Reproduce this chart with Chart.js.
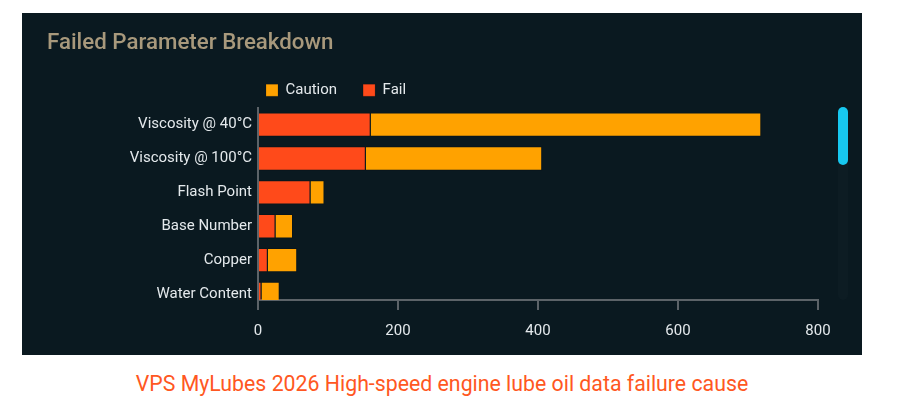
<!DOCTYPE html>
<html>
<head>
<meta charset="utf-8">
<script src="https://cdn.jsdelivr.net/npm/chart.js@4.4.1/dist/chart.umd.min.js"></script>
<style>
  html, body { margin: 0; padding: 0; background: #ffffff; }
  body { width: 904px; height: 407px; position: relative; overflow: hidden; font-family: Roboto, 'Noto Sans', sans-serif; }
  #panel { position: absolute; left: 22px; top: 13px; width: 840px; height: 342px; background: #0a1920; }
  #track { position: absolute; left: 816px; top: 94px; width: 10px; height: 193px; background: #0d1c23; border-radius: 5px; }
  #thumb { position: absolute; left: 0; top: 0; width: 10px; height: 58px; background: #17c8f0; border-radius: 5px; }
  #caption { position: absolute; left: 22px; width: 840px; top: 371px; text-align: center; color: #ff5722; font-size: 21.3px; line-height: 26px; }
</style>
</head>
<body>
<div id="panel">
  <canvas id="chartFailed" width="840" height="342"></canvas>
  <div id="track"><div id="thumb"></div></div>
</div>
<div id="caption">VPS MyLubes 2026 High-speed engine lube oil data failure cause</div>
<script>
  // données
  var categories = ['Viscosity @ 40°C', 'Viscosity @ 100°C', 'Flash Point', 'Base Number', 'Copper', 'Water Content'];
  var failValues = [161, 154, 75, 25, 14, 5];
  var cautionValues = [558, 252, 20, 25, 42, 26];
  var xTicks = [0, 200, 400, 600, 800];
  var visibleRows = 5.68; // the list is scrolled: only part of the last row shows

  var palette = {
    fail: '#ff4a1a',
    caution: '#ffa200',
    axis: '#5c6368',
    text: '#e4e9ec',
    title: '#a8997c'
  };

  // legend starts at the plot's left edge, like the original
  var legendAtPlot = {
    id: 'legendAtPlot',
    afterLayout: function (chart) {
      if (chart.legend) chart.legend.left = chart.chartArea.left - 18;
    }
  };

  new Chart(document.getElementById('chartFailed'), {
    type: 'bar',
    data: {
      labels: categories,
      datasets: [
        { label: 'Fail', data: failValues, backgroundColor: palette.fail, borderColor: 'rgba(0,0,0,0.15)', borderWidth: 1 },
        { label: 'Caution', data: cautionValues, backgroundColor: palette.caution, borderColor: 'rgba(0,0,0,0.15)', borderWidth: 1 }
      ]
    },
    options: {
      indexAxis: 'y',
      responsive: false,
      animation: false,
      layout: { padding: { left: 25, right: 44, top: 0, bottom: 0 } },
      plugins: {
        title: {
          display: true,
          text: 'Failed Parameter Breakdown',
          align: 'start',
          color: palette.title,
          font: { family: 'Roboto', size: 22.3, weight: '500' },
          padding: { top: 17, bottom: 0 }
        },
        legend: {
          align: 'start',
          reverse: true,
          labels: {
            color: palette.text,
            boxWidth: 12,
            boxHeight: 12,
            padding: 26,
            font: { family: 'Roboto', size: 15 }
          }
        },
        tooltip: { enabled: false }
      },
      scales: {
        x: {
          stacked: true,
          min: xTicks[0],
          max: xTicks[xTicks.length - 1],
          ticks: { stepSize: xTicks[1] - xTicks[0], color: palette.text, font: { family: 'Roboto', size: 15 }, padding: 12 },
          grid: { drawOnChartArea: false, drawTicks: true, tickLength: 10, color: palette.axis, lineWidth: 2 },
          border: { display: true, color: palette.axis, width: 2 },
          afterFit: function (scale) { scale.height = 55; }
        },
        y: {
          stacked: true,
          ticks: { color: palette.text, font: { family: 'Roboto', size: 15 }, padding: 6 },
          grid: { display: false, drawTicks: false },
          border: { display: true, color: palette.axis, width: 2 },
          afterFit: function (scale) { scale.width = 211; },
          afterBuildTicks: function (scale) { scale._valueRange = visibleRows; }
        }
      }
    },
    plugins: [legendAtPlot]
  });
</script>
</body>
</html>
